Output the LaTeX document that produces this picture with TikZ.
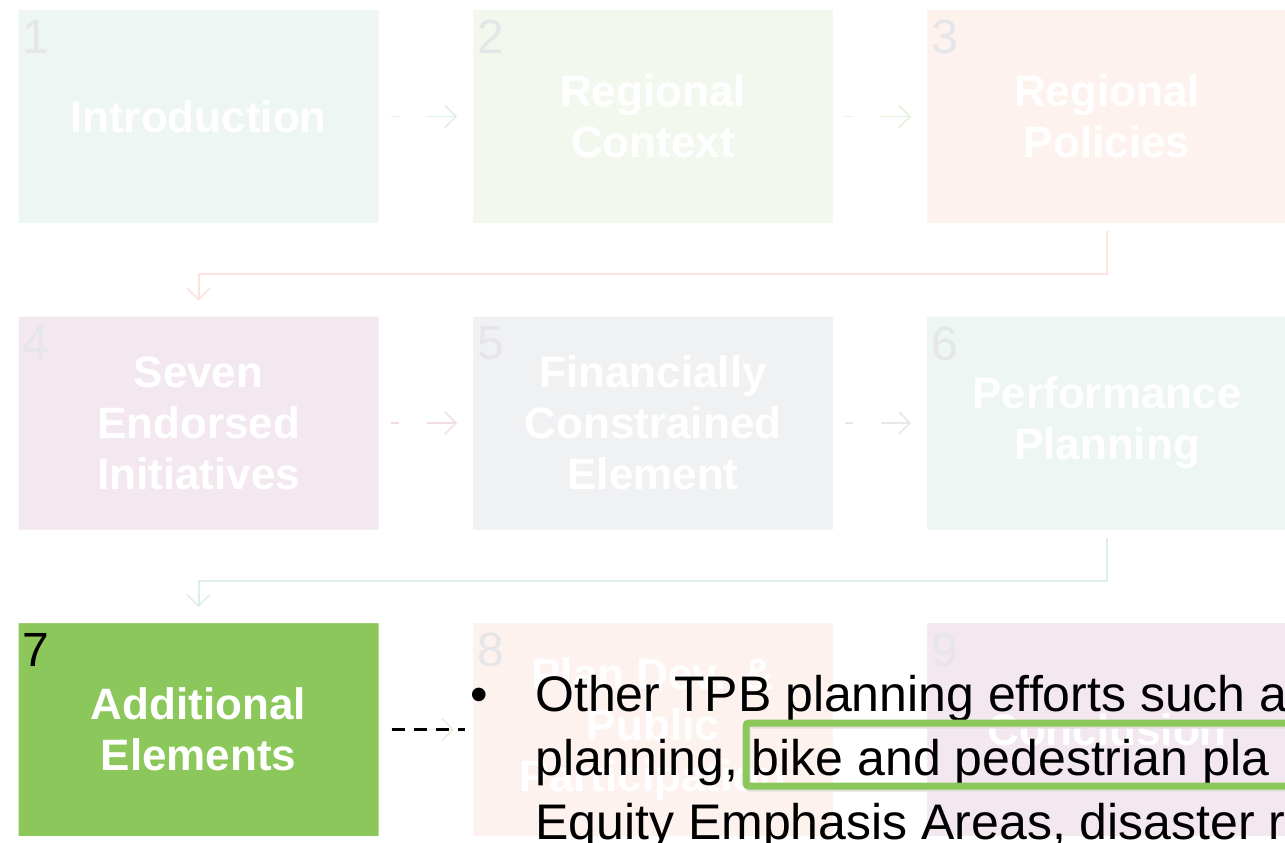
\documentclass[tikz,border=0pt]{standalone}
\usepackage{fontspec}
\setmainfont{Liberation Sans}
\usetikzlibrary{arrows.meta,shadows}

\definecolor{mintbg}{HTML}{EDF6F2}
\definecolor{leafbg}{HTML}{F3F8EF}
\definecolor{salmonbg}{HTML}{FDF2EE}
\definecolor{pinkbg}{HTML}{F4E8F0}
\definecolor{greybg}{HTML}{F0F1F3}
\definecolor{stagegreen}{HTML}{8CC75B}
\definecolor{numgrey}{HTML}{E6E6E8}
\definecolor{mintline}{HTML}{DDEFE8}
\definecolor{leafline}{HTML}{E4F1DA}
\definecolor{salmonline}{HTML}{FBE4DB}
\definecolor{pinkline}{HTML}{F3DDE8}
\definecolor{greyline}{HTML}{E6E7EA}

\newcommand{\stagefont}{\fontsize{44}{51}\selectfont\bfseries}
\newcommand{\numfont}{\fontsize{48}{50}\selectfont}
\newcommand{\notefont}{\fontsize{50}{63}\selectfont}

\tikzset{
  stagebox/.style={draw=white, line width=8pt, minimum width=368pt, minimum height=221pt,
    inner sep=0pt, align=center, text=white, font=\stagefont, rounded corners=2pt,
    drop shadow={opacity=0.12, shadow xshift=1pt, shadow yshift=-3pt}},
  stagenum/.style={anchor=north west, inner sep=0pt, xshift=12pt, yshift=-18pt,
    font=\numfont, text=numgrey},
  flow/.style={line width=1.5pt, -{Straight Barb[length=11pt,width=22pt,line width=1.5pt]},
    dash pattern=on 36pt off 28pt, dash phase=28pt, shorten <=4pt, shorten >=8pt},
  turn/.style={line width=2pt, -{Straight Barb[length=11pt,width=22pt,line width=1.5pt]},
    shorten >=8pt},
  noteline/.style={anchor=base west, inner sep=0pt, font=\notefont, text=black},
  hilite/.style={draw=stagegreen, line width=7pt, rounded corners=3pt}
}

\begin{document}
\begin{tikzpicture}[x=1pt, y=-1pt]
\fill[white] (0,0) rectangle (1285,843);
\useasboundingbox (0,0) rectangle (1285,843);

% the nine chapters
\node[stagebox, fill=mintbg, label={[stagenum]north west:1}] (s1) at (198.5,116.5) {Introduction};
\node[stagebox, fill=leafbg, label={[stagenum]north west:2}] (s2) at (653,116.5) {Regional\\Context};
\node[stagebox, fill=salmonbg, label={[stagenum]north west:3}] (s3) at (1107,116.5) {Regional\\Policies};
\node[stagebox, fill=pinkbg, label={[stagenum]north west:4}] (s4) at (198.5,423) {Seven\\Endorsed\\Initiatives};
\node[stagebox, fill=greybg, label={[stagenum]north west:5}] (s5) at (653,423) {Financially\\Constrained\\Element};
\node[stagebox, fill=mintbg, label={[stagenum]north west:6}] (s6) at (1107,423) {Performance\\Planning};
\node[stagebox, fill=stagegreen, label={[stagenum, text=black]north west:7}] (s7) at (198.5,729.5) {Additional\\Elements};
\node[stagebox, fill=salmonbg, label={[stagenum]north west:8}] (s8) at (653,729.5) {Plan Dev. \&\\Public\\Participation};
\node[stagebox, fill=pinkbg, label={[stagenum]north west:9}] (s9) at (1107,729.5) {Conclusion};

% connectors
\draw[flow, mintline] (s1) -- (s2);
\draw[flow, leafline] (s2) -- (s3);
\draw[turn, salmonline] (s3.south) -- ++(0,42.5) -| (s4.north);
\draw[flow, pinkline] (s4) -- (s5);
\draw[flow, greyline] (s5) -- (s6);
\draw[turn, mintline] (s6.south) -- ++(0,43) -| (s7.north);
\draw[flow, leafline, shorten >=11pt] (s7) -- (s8);
\draw[black, line width=3pt, dash pattern=on 13pt off 9pt, shorten <=5pt] (s7.east) -- (s8.west);

% bullet text over the chart
\node[noteline] (dot) at (470,711) {•};
\node[noteline] (note1) at (535,711) {Other TPB planning efforts such a};
\node[noteline] (note2) at (535,775) {planning, bike and pedestrian pla};
\node[noteline] (note3) at (535,839) {Equity Emphasis Areas, disaster ri};

\draw[black!12, line width=7pt, rounded corners=3pt] (747,725) rectangle (1301,788);
\draw[hilite] (746,723) rectangle (1300,786);
\end{tikzpicture}
\end{document}
